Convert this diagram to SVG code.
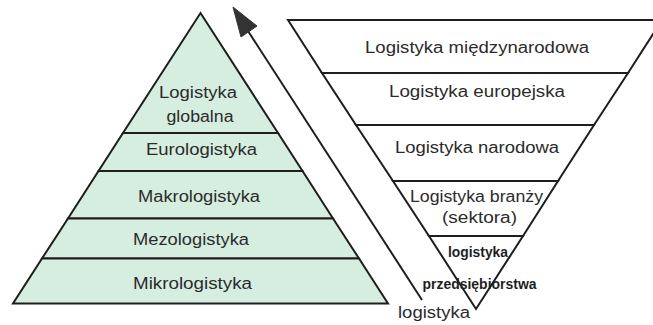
<svg xmlns="http://www.w3.org/2000/svg" width="653" height="325" viewBox="0 0 653 325">
<style>
.tier{fill:#d6eee0;stroke:#1e1e1e;stroke-width:2;stroke-linejoin:miter}
.inv{fill:#ffffff;stroke:#1e1e1e;stroke-width:2}
.t{font-family:"Liberation Sans",Arial,sans-serif;font-size:16px;fill:#2b2b2b;text-anchor:middle}
.b{font-family:"Liberation Sans",Arial,sans-serif;font-size:14px;font-weight:bold;fill:#1e1e1e;text-anchor:middle}
.conn{stroke:#1e1e1e;stroke-width:2;fill:none}
.head{fill:#333;stroke:#333;stroke-width:1;stroke-linejoin:round}
</style>
<rect width="653" height="325" fill="#ffffff"/>

<!-- left pyramid -->
<g id="globalna">
<polygon class="tier" points="200.5,13 278,133 123,133"/>
<text class="t" x="198" y="98" textLength="78" lengthAdjust="spacingAndGlyphs">Logistyka</text>
<text class="t" x="200" y="122" textLength="67" lengthAdjust="spacingAndGlyphs">globalna</text>
</g>
<g id="euro">
<polygon class="tier" points="123,133 278,133 302.5,171 98.5,171"/>
<text class="t" x="201.5" y="155" textLength="111" lengthAdjust="spacingAndGlyphs">Eurologistyka</text>
</g>
<g id="makro">
<polygon class="tier" points="98.5,171 302.5,171 333,218.5 68,218.5"/>
<text class="t" x="199" y="202" textLength="122" lengthAdjust="spacingAndGlyphs">Makrologistyka</text>
</g>
<g id="mezo">
<polygon class="tier" points="68,218.5 333,218.5 359,258.5 42,258.5"/>
<text class="t" x="191" y="245" textLength="116" lengthAdjust="spacingAndGlyphs">Mezologistyka</text>
</g>
<g id="mikro">
<polygon class="tier" points="42,258.5 359,258.5 388,303.5 13,303.5"/>
<text class="t" x="192.5" y="289" textLength="119" lengthAdjust="spacingAndGlyphs">Mikrologistyka</text>
</g>

<!-- right inverted pyramid -->
<g id="miedzynarodowa">
<polygon class="inv" points="288,20 662,20 628,73 322,73"/>
<text class="t" x="477" y="52.5" textLength="224" lengthAdjust="spacingAndGlyphs">Logistyka międzynarodowa</text>
</g>
<g id="europejska">
<polygon class="inv" points="322,73 628,73 594,125 356,125"/>
<text class="t" x="477" y="97" textLength="176" lengthAdjust="spacingAndGlyphs">Logistyka europejska</text>
</g>
<g id="narodowa">
<polygon class="inv" points="356,125 594,125 558,181 393,181"/>
<text class="t" x="477" y="152.5" textLength="164" lengthAdjust="spacingAndGlyphs">Logistyka narodowa</text>
</g>
<g id="branzy">
<polygon class="inv" points="393,181 558,181 523,236 429,236"/>
<text class="t" x="476.5" y="201.5" textLength="133" lengthAdjust="spacingAndGlyphs">Logistyka branży</text>
<text class="t" x="479.5" y="223" textLength="75" lengthAdjust="spacingAndGlyphs">(sektora)</text>
</g>
<g id="przedsiebiorstwa">
<polygon class="inv" points="429,236 523,236 476,309"/>
<text class="b" x="478" y="256.5" textLength="60" lengthAdjust="spacingAndGlyphs">logistyka</text>
<text class="b" x="479.5" y="289" textLength="114" lengthAdjust="spacingAndGlyphs">przedsiębiorstwa</text>
</g>

<g id="label-logistyka">
<text class="t" x="434" y="318" textLength="72" lengthAdjust="spacingAndGlyphs">logistyka</text>
</g>

<!-- connectors -->
<g id="connectors">
<line class="conn" x1="422" y1="300" x2="248" y2="31"/>
<polygon class="head" points="233,7 257,26 241,37"/>
</g>
</svg>
